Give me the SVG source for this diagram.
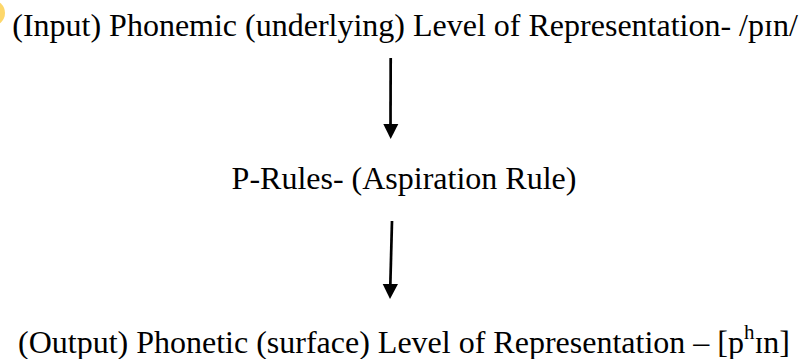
<svg xmlns="http://www.w3.org/2000/svg" width="800" height="359" viewBox="0 0 800 359">
<style>
.t{font-family:"Liberation Serif","Times New Roman",serif;font-size:32px;fill:#000;}
.c{stroke:#000;stroke-width:2.7;fill:none;}
.h{fill:#000;stroke:none;}
</style>
<rect width="800" height="359" fill="#fff"/>
<circle cx="-8" cy="13" r="13" fill="#FDD76A"/>
<g id="input"><text class="t" x="405" y="36" text-anchor="middle">(Input) Phonemic (underlying) Level of Representation- /pɪn/</text></g>
<g id="prules"><text class="t" x="404" y="189" text-anchor="middle">P-Rules- (Aspiration Rule)</text></g>
<g id="output"><text class="t" x="404" y="353" text-anchor="middle">(Output) Phonetic (surface) Level of Representation – [p<tspan font-size="21" dy="-14">h</tspan><tspan dy="14">ɪn]</tspan></text></g>
<g id="connectors">
<line class="c" x1="390.7" y1="58" x2="390.5" y2="126"/>
<polygon class="h" points="383.3,124 398.3,124 390.7,139"/>
<line class="c" x1="392" y1="221" x2="390.3" y2="286"/>
<polygon class="h" points="382.7,284 398,284 390,299"/>
</g>
</svg>
